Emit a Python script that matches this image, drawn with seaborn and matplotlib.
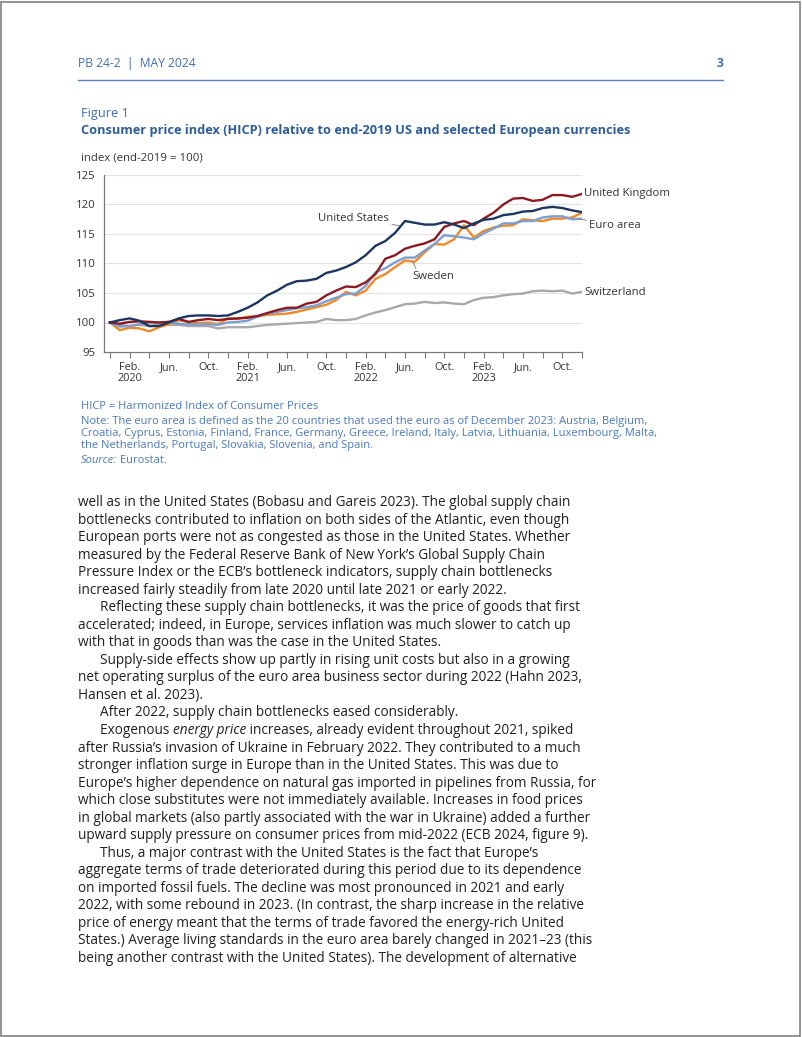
import matplotlib
matplotlib.use("Agg")
import matplotlib.pyplot as plt
import matplotlib.patches as patches
import numpy as np
import pandas as pd
import seaborn as sns

# monthly index values, Dec 2019 .. Dec 2023
us = [100.0, 100.4, 100.7, 100.3, 99.4, 99.4, 100.0, 100.7, 101.1, 101.2, 101.2, 101.1,
      101.2, 101.8, 102.5, 103.4, 104.6, 105.4, 106.4, 107.0, 107.1, 107.4, 108.4, 108.8,
      109.4, 110.2, 111.4, 113.0, 113.8, 115.2, 117.2, 116.9, 116.6, 116.6, 117.0, 116.6,
      116.0, 116.8, 117.4, 117.6, 118.2, 118.4, 118.8, 118.9, 119.4, 119.6, 119.4, 119.0,
      118.7]
uk = [100.0, 99.8, 100.1, 100.2, 100.1, 100.0, 100.1, 100.6, 100.1, 100.4, 100.6, 100.4,
      100.6, 100.7, 100.8, 101.1, 101.6, 102.1, 102.5, 102.5, 103.2, 103.5, 104.6, 105.4,
      106.1, 106.0, 106.8, 108.2, 110.8, 111.4, 112.5, 113.0, 113.4, 114.1, 116.2, 116.8,
      117.2, 116.5, 117.6, 118.6, 120.0, 121.0, 121.1, 120.6, 120.8, 121.6, 121.6, 121.3,
      121.8]
euro = [100.0, 99.3, 99.4, 99.7, 100.0, 100.0, 100.1, 99.8, 99.7, 99.7, 99.7, 99.6,
        100.0, 100.1, 100.3, 101.0, 101.5, 101.8, 102.1, 102.4, 102.6, 102.9, 103.6, 104.2,
        104.8, 104.9, 106.2, 108.5, 109.2, 110.2, 111.0, 111.0, 112.2, 113.3, 114.8, 114.6,
        114.4, 114.1, 115.1, 115.9, 116.8, 116.8, 117.2, 117.2, 117.8, 118.0, 118.0, 117.5,
        117.6]
sweden = [100.0, 98.7, 99.1, 99.0, 98.5, 99.2, 99.7, 100.4, 100.1, 99.9, 100.0, 99.7,
          100.7, 100.6, 101.0, 101.0, 101.3, 101.4, 101.5, 101.8, 102.2, 102.6, 103.0, 103.8,
          105.2, 104.6, 105.4, 107.4, 108.2, 109.4, 110.5, 110.3, 111.9, 113.3, 113.2, 114.1,
          116.5, 114.4, 115.5, 116.1, 116.4, 116.5, 117.5, 117.3, 117.2, 117.6, 117.6, 117.8,
          118.6]
swiss = [100.0, 99.6, 99.4, 99.6, 99.4, 99.6, 99.6, 99.6, 99.4, 99.4, 99.4, 99.0,
         99.2, 99.2, 99.2, 99.4, 99.6, 99.7, 99.8, 99.9, 100.0, 100.1, 100.6, 100.4,
         100.4, 100.6, 101.2, 101.7, 102.1, 102.6, 103.1, 103.2, 103.5, 103.3, 103.4, 103.2,
         103.1, 103.8, 104.2, 104.3, 104.6, 104.8, 104.9, 105.3, 105.4, 105.3, 105.4, 104.9,
         105.2]

series_names = ["Switzerland", "Sweden", "Euro area", "United Kingdom", "United States"]
series_vals = [swiss, sweden, euro, uk, us]
colors = {"United States": "#1c3660", "United Kingdom": "#8b1a22", "Euro area": "#7d9ed3",
          "Sweden": "#ef8a26", "Switzerland": "#a9a9ab"}

tick_pos = [2, 6, 10, 14, 18, 22, 26, 30, 34, 38, 42, 46]
tick_labels = ["Feb.\n2020", "Jun.", "Oct.", "Feb.\n2021", "Jun.", "Oct.",
               "Feb.\n2022", "Jun.", "Oct.", "Feb.\n2023", "Jun.", "Oct."]

months = np.arange(len(us))
df = pd.concat([pd.DataFrame({"month": months, "value": v, "series": n})
                for n, v in zip(series_names, series_vals)])

W, H = 802, 1037
fig = plt.figure(figsize=(W / 100, H / 100), dpi=100)
renderer = fig.canvas.get_renderer()
FONT = ["Open Sans", "DejaVu Sans"]

def fx(x):
    return x / W

def fy(y):
    return 1 - y / H

def fit(s, width, **kw):
    t = fig.text(0, 0, s, fontsize=10, family=FONT, **kw)
    w = t.get_window_extent(renderer).width
    t.remove()
    return 10 * width / w

def runs(x, y, parts, size, color):
    # draw a line made of differently styled pieces
    for s, style in parts:
        t = fig.text(fx(x), fy(y), s, fontsize=size, family=FONT, style=style,
                     color=color, va="baseline")
        x += t.get_window_extent(renderer).width

# page frame
fig.patches.append(patches.Rectangle((0.001, 0.001), 0.997, 0.997, transform=fig.transFigure,
                                     fill=False, edgecolor="#808080", lw=1.2))

blue = "#3f6db3"
hdr = fit("PB 24-2  |  MAY 2024", 118)
fig.text(fx(78), fy(67), "PB 24-2  |  MAY 2024", fontsize=hdr, family=FONT, color=blue, va="baseline")
fig.text(fx(723), fy(67), "3", fontsize=hdr, family=FONT, color=blue, weight="bold",
         ha="right", va="baseline")
fig.add_artist(plt.Line2D([fx(78), fx(723)], [fy(80), fy(80)], color="#5b7fc0", lw=1,
                          transform=fig.transFigure))

fig.text(fx(81), fy(117), "Figure 1", fontsize=fit("Figure 1", 48), family=FONT,
         color=blue, va="baseline")
title = "Consumer price index (HICP) relative to end-2019 US and selected European currencies"
fig.text(fx(81), fy(134), title, fontsize=fit(title, 551, weight="bold"), family=FONT,
         weight="bold", color="#2d5c9c", va="baseline")
fig.text(fx(81), fy(160), "index (end-2019 = 100)", fontsize=fit("index (end-2019 = 100)", 121),
         family=FONT, color="#333333", va="baseline")

# chart
ax = fig.add_axes([fx(104), fy(352), fx(582) - fx(104), fy(175) - fy(352)])
sns.lineplot(data=df, x="month", y="value", hue="series", hue_order=series_names,
             palette=colors, linewidth=1.7, legend=False, ax=ax)
ax.set_xlim(-0.6, 48)
ax.set_ylim(95, 125)
ax.set_yticks([95, 100, 105, 110, 115, 120, 125])
ax.set_xticks(np.arange(0, 49, 2), minor=True)
ax.set_xticks(tick_pos)
ax.set_xticklabels(tick_labels)
ax.set_xlabel("")
ax.set_ylabel("")
for g in [100, 105, 110, 115, 120, 125]:
    ax.axhline(g, color="#e3e3e3", lw=0.8, zorder=0)
for s in ["top", "right"]:
    ax.spines[s].set_visible(False)
for s in ["left", "bottom"]:
    ax.spines[s].set_color("#7a7a7a")
    ax.spines[s].set_linewidth(0.9)
ax.tick_params(axis="y", length=0, pad=6, labelsize=8.2, labelcolor="#333333")
ax.tick_params(axis="x", which="both", length=4, color="#7a7a7a", width=0.8,
               labelsize=7.8, labelcolor="#333333", pad=3)
for lab in ax.get_xticklabels() + ax.get_yticklabels():
    lab.set_family(FONT)
    lab.set_linespacing(1.0)

lab_kw = dict(fontsize=8.2, family=FONT, color="#333333", va="center")
line_kw = dict(arrowstyle="-", color="#888888", lw=0.7, shrinkA=0, shrinkB=0)
ax.annotate("United Kingdom", xy=(48, uk[-1]), xytext=(48.2, 121.9), ha="left", **lab_kw)
ax.annotate("Euro area", xy=(47.6, 117.6), xytext=(48.7, 116.4), ha="left",
            arrowprops=line_kw, **lab_kw)
ax.annotate("Switzerland", xy=(48, swiss[-1]), xytext=(48.2, 105.1), ha="left", **lab_kw)
ax.annotate("United States", xy=(29.5, 116.4), xytext=(28.4, 117.6), ha="right",
            arrowprops=line_kw, **lab_kw)
ax.annotate("Sweden", xy=(30.8, 110.3), xytext=(30.8, 107.8), ha="left",
            arrowprops=dict(line_kw, relpos=(0.1, 1.0)), **lab_kw)
for t in ax.texts:
    t.set_clip_on(False)

# notes
note_color = "#4a79bd"
note_ref = "Note: The euro area is defined as the 20 countries that used the euro as of December 2023: Austria, Belgium,"
ns = fit(note_ref, 567)
notes = ["HICP = Harmonized Index of Consumer Prices",
         note_ref,
         "Croatia, Cyprus, Estonia, Finland, France, Germany, Greece, Ireland, Italy, Latvia, Lithuania, Luxembourg, Malta,",
         "the Netherlands, Portugal, Slovakia, Slovenia, and Spain."]
for y, s in zip([409, 424, 436, 448], notes):
    fig.text(fx(81), fy(y), s, fontsize=ns, family=FONT, color=note_color, va="baseline")
runs(81, 463, [("Source:", "italic"), (" Eurostat.", "normal")], ns, note_color)

# body text
body = [
    (78, "well as in the United States (Bobasu and Gareis 2023). The global supply chain"),
    (78, "bottlenecks contributed to inflation on both sides of the Atlantic, even though"),
    (78, "European ports were not as congested as those in the United States. Whether"),
    (78, "measured by the Federal Reserve Bank of New York\u2019s Global Supply Chain"),
    (78, "Pressure Index or the ECB\u2019s bottleneck indicators, supply chain bottlenecks"),
    (78, "increased fairly steadily from late 2020 until late 2021 or early 2022."),
    (100, "Reflecting these supply chain bottlenecks, it was the price of goods that first"),
    (78, "accelerated; indeed, in Europe, services inflation was much slower to catch up"),
    (78, "with that in goods than was the case in the United States."),
    (100, "Supply-side effects show up partly in rising unit costs but also in a growing"),
    (78, "net operating surplus of the euro area business sector during 2022 (Hahn 2023,"),
    (78, "Hansen et al. 2023)."),
    (100, "After 2022, supply chain bottlenecks eased considerably."),
    (100, None),
    (78, "after Russia\u2019s invasion of Ukraine in February 2022. They contributed to a much"),
    (78, "stronger inflation surge in Europe than in the United States. This was due to"),
    (78, "Europe\u2019s higher dependence on natural gas imported in pipelines from Russia, for"),
    (78, "which close substitutes were not immediately available. Increases in food prices"),
    (78, "in global markets (also partly associated with the war in Ukraine) added a further"),
    (78, "upward supply pressure on consumer prices from mid-2022 (ECB 2024, figure 9)."),
    (100, "Thus, a major contrast with the United States is the fact that Europe\u2019s"),
    (78, "aggregate terms of trade deteriorated during this period due to its dependence"),
    (78, "on imported fossil fuels. The decline was most pronounced in 2021 and early"),
    (78, "2022, with some rebound in 2023. (In contrast, the sharp increase in the relative"),
    (78, "price of energy meant that the terms of trade favored the energy-rich United"),
    (78, "States.) Average living standards in the euro area barely changed in 2021\u201323 (this"),
    (78, "being another contrast with the United States). The development of alternative"),
]
bs = fit(body[1][1], 492)
body_color = "#231f20"
for k, (x, s) in enumerate(body):
    y = 506 + k * 17.54
    if s is None:
        runs(x, y, [("Exogenous ", "normal"), ("energy price", "italic"),
                    (" increases, already evident throughout 2021, spiked", "normal")],
             bs, body_color)
    else:
        fig.text(fx(x), fy(y), s, fontsize=bs, family=FONT, color=body_color, va="baseline")

fig.savefig("out.png", dpi=100)
